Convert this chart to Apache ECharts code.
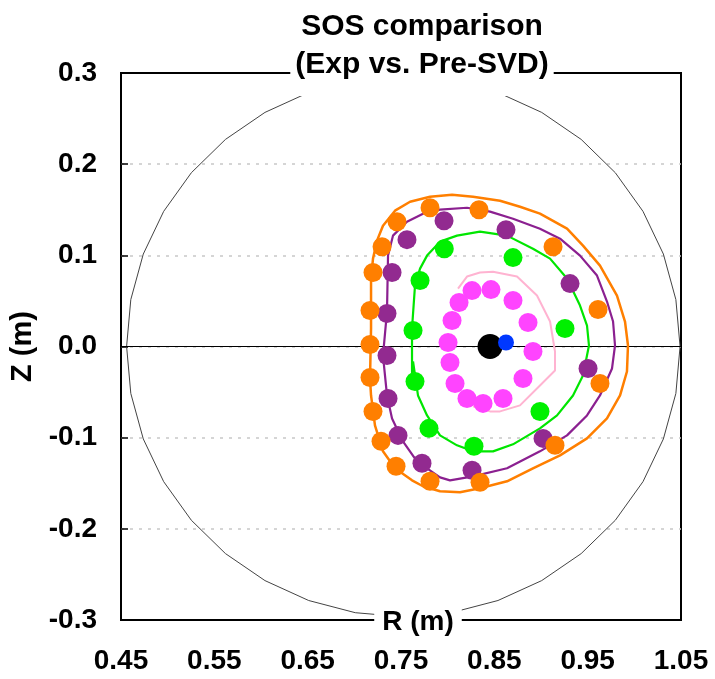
<!DOCTYPE html>
<html>
<head>
<meta charset="utf-8">
<title>SOS comparison</title>
<script src="https://cdn.jsdelivr.net/npm/echarts@6/dist/echarts.min.js"></script>
<style>
  html, body { margin: 0; padding: 0; background: #fff; }
  #chart { width: 715px; height: 679px; }
</style>
</head>
<body>
<div id="chart"></div>
<script>
// Axis tick labels
const rTickLabels = ['0.45', '0.55', '0.65', '0.75', '0.85', '0.95', '1.05'];
const zTickLabels = ['-0.3', '-0.2', '-0.1', '0.0', '0.1', '0.2', '0.3'];

// Vessel boundary: centre [R, Z], radius (m) and number of polygon sides
const vesselCenter = [0.7525, 0];
const vesselRadius = 0.2965;
const vesselSides = 36;

// Magnetic axis and reference point [R, Z]
const axisPoint = [[0.8454, 0.0]];
const refPoint = [[0.8625, 0.0044]];

// Experimental surface points [R, Z]
const orangePoints = [
  [0.7811, 0.1522], [0.8336, 0.1501], [0.7457, 0.1369], [0.7297, 0.1095],
  [0.7200, 0.0811], [0.7168, 0.0394], [0.7168, 0.0022], [0.7168, -0.0340],
  [0.7200, -0.0712], [0.7286, -0.1040], [0.7447, -0.1314], [0.7811, -0.1479],
  [0.8347, -0.1490], [0.9150, -0.1084], [0.9632, -0.0405], [0.9611, 0.0405],
  [0.9129, 0.1095]
];
const purplePoints = [
  [0.7961, 0.1380], [0.7564, 0.1172], [0.7404, 0.0811], [0.7350, 0.0361],
  [0.7350, -0.0099], [0.7361, -0.0570], [0.7468, -0.0975], [0.7725, -0.1280],
  [0.8261, -0.1358], [0.9022, -0.1008], [0.9504, -0.0241], [0.9311, 0.0690],
  [0.8625, 0.1281]
];
const greenPoints = [
  [0.7964, 0.1073], [0.8700, 0.0975], [0.7704, 0.0723], [0.7629, 0.0175],
  [0.7650, -0.0383], [0.7800, -0.0898], [0.8282, -0.1095], [0.8989, -0.0712],
  [0.9257, 0.0197]
];
const magentaPoints = [
  [0.8261, 0.0613], [0.8464, 0.0624], [0.8122, 0.0482], [0.8700, 0.0504],
  [0.8047, 0.0285], [0.8861, 0.0263], [0.8004, 0.0044], [0.8914, -0.0055],
  [0.8025, -0.0175], [0.8079, -0.0405], [0.8207, -0.0570], [0.8379, -0.0624],
  [0.8593, -0.0570], [0.8807, -0.0350]
];

// Pre-SVD reconstructed surfaces [R, Z]
const orangeCurve = [
  [0.7168, -0.0350], [0.7179, 0.0197], [0.7179, 0.0745], [0.7200, 0.0964],
  [0.7243, 0.1161], [0.7307, 0.1325], [0.7436, 0.1490], [0.7597, 0.1588],
  [0.7811, 0.1643], [0.8047, 0.1665], [0.8272, 0.1643], [0.8561, 0.1599],
  [0.8775, 0.1533], [0.8989, 0.1457], [0.9279, 0.1292], [0.9450, 0.1106],
  [0.9632, 0.0887], [0.9814, 0.0559], [0.9900, 0.0274], [0.9932, 0.0011],
  [0.9921, -0.0274], [0.9847, -0.0537], [0.9707, -0.0789], [0.9493, -0.1008],
  [0.9204, -0.1194], [0.8914, -0.1336], [0.8636, -0.1479], [0.8346, -0.1555],
  [0.8132, -0.1599], [0.7918, -0.1588], [0.7736, -0.1533], [0.7618, -0.1468],
  [0.7436, -0.1336], [0.7307, -0.1150], [0.7221, -0.0865], [0.7179, -0.0537],
  [0.7168, -0.0350]
];
const purpleCurve = [
  [0.7307, -0.0099], [0.7350, 0.0383], [0.7361, 0.0997], [0.7414, 0.1216],
  [0.7564, 0.1369], [0.7736, 0.1457], [0.7918, 0.1501], [0.8207, 0.1522],
  [0.8454, 0.1479], [0.8700, 0.1402], [0.8989, 0.1292], [0.9204, 0.1183],
  [0.9418, 0.0997], [0.9600, 0.0778], [0.9707, 0.0493], [0.9772, 0.0274],
  [0.9793, 0.0011], [0.9761, -0.0241], [0.9632, -0.0537], [0.9493, -0.0756],
  [0.9279, -0.0975], [0.8989, -0.1150], [0.8636, -0.1336], [0.8272, -0.1424],
  [0.8025, -0.1468], [0.7918, -0.1435], [0.7671, -0.1260], [0.7521, -0.1041],
  [0.7404, -0.0789], [0.7350, -0.0537], [0.7307, -0.0099]
];
const greenCurve = [
  [0.7618, -0.0350], [0.7618, 0.0197], [0.7650, 0.0668], [0.7704, 0.0854],
  [0.7779, 0.0997], [0.7918, 0.1150], [0.8100, 0.1216], [0.8346, 0.1260],
  [0.8636, 0.1216], [0.8914, 0.1073], [0.9097, 0.0964], [0.9279, 0.0745],
  [0.9418, 0.0449], [0.9493, 0.0230], [0.9514, 0.0011], [0.9450, -0.0318],
  [0.9343, -0.0537], [0.9172, -0.0756], [0.8989, -0.0898], [0.8700, -0.1073],
  [0.8486, -0.1150], [0.8272, -0.1150], [0.8100, -0.1084], [0.7918, -0.0975],
  [0.7779, -0.0756], [0.7682, -0.0537], [0.7629, -0.0164], [0.7618, -0.0350]
];
const pinkCurve = [
  [0.8111, 0.0635], [0.8207, 0.0767], [0.8346, 0.0811], [0.8486, 0.0821],
  [0.8743, 0.0767], [0.8957, 0.0559], [0.9097, 0.0274], [0.9150, -0.0055],
  [0.9150, -0.0263], [0.8989, -0.0427], [0.8775, -0.0646], [0.8561, -0.0712],
  [0.8454, -0.0712], [0.8272, -0.0657]
];

// Midplane Z = 0
const midplane = [[0.45, 0], [1.05, 0]];

const FONT = '"Liberation Sans", Arial, Helvetica, sans-serif';

function curveSeries(data, color, width) {
  return {
    type: 'line', data: data, symbol: 'none', smooth: false,
    lineStyle: { color: color, width: width }, z: 3, silent: true
  };
}
function pointSeries(data, color, size, z) {
  return {
    type: 'scatter', data: data, symbol: 'circle', symbolSize: size,
    itemStyle: { color: color, opacity: 1 }, z: z, silent: true
  };
}

const chart = echarts.init(document.getElementById('chart'), null, { renderer: 'canvas' });

chart.setOption({
  animation: false,
  backgroundColor: '#fff',
  title: [
    {
      text: 'SOS comparison\n(Exp vs. Pre-SVD)',
      left: 417, top: 2, textAlign: 'center',
      backgroundColor: '#fff',
      padding: [6, 5, 12, 5],
      textStyle: { fontFamily: FONT, fontSize: 30, fontWeight: 'bold', color: '#000', lineHeight: 38 }
    },
    {
      text: 'R (m)',
      left: 410, top: 604, textAlign: 'center',
      backgroundColor: '#fff',
      padding: [2, 8, 4, 8],
      textStyle: { fontFamily: FONT, fontSize: 28, fontWeight: 'bold', color: '#000', lineHeight: 32 }
    }
  ],
  grid: {
    left: 121, right: 34, top: 73, bottom: 59,
    show: true, borderColor: '#000', borderWidth: 2, backgroundColor: 'transparent'
  },
  xAxis: {
    type: 'value', min: 0.45, max: 1.05, interval: 0.1,
    axisLine: { show: false }, axisTick: { show: false }, splitLine: { show: false },
    axisLabel: {
      margin: 27, color: '#000', fontFamily: FONT, fontSize: 28, fontWeight: 'bold',
      formatter: function (v) {
        const i = Math.round((v - 0.45) / 0.1);
        return rTickLabels[i] !== undefined ? rTickLabels[i] : '';
      }
    }
  },
  yAxis: {
    type: 'value', min: -0.3, max: 0.3, interval: 0.1,
    name: 'Z (m)', nameLocation: 'middle', nameRotate: 90, nameGap: 69,
    nameTextStyle: { fontFamily: FONT, fontSize: 29, fontWeight: 'bold', color: '#000' },
    axisLine: { show: false },
    axisTick: { show: true, inside: true, length: 7, lineStyle: { color: '#000', width: 1.5 } },
    splitLine: {
      show: true, showMinLine: false, showMaxLine: false,
      lineStyle: { color: '#c8c8c8', type: [3, 6], width: 1.5 }
    },
    axisLabel: {
      margin: 24, color: '#000', fontFamily: FONT, fontSize: 28, fontWeight: 'bold',
      formatter: function (v) {
        const i = Math.round((v + 0.3) / 0.1);
        return zTickLabels[i] !== undefined ? zTickLabels[i] : '';
      }
    }
  },
  series: [
    {
      type: 'custom', coordinateSystem: 'cartesian2d', silent: true, z: 1,
      data: [[vesselCenter[0], vesselCenter[1], vesselRadius]],
      encode: { x: 0, y: 1 },
      renderItem: function (params, api) {
        const cR = api.value(0), cZ = api.value(1), rad = api.value(2);
        const pts = [];
        for (let k = 0; k < vesselSides; k++) {
          const a = 2 * Math.PI * k / vesselSides;
          pts.push(api.coord([cR + rad * Math.cos(a), cZ + rad * Math.sin(a)]));
        }
        return { type: 'polygon', shape: { points: pts }, style: { fill: 'none', stroke: '#444', lineWidth: 1 } };
      }
    },
    { type: 'line', data: midplane, symbol: 'none', lineStyle: { color: '#000', width: 1.2 }, z: 2, silent: true },
    curveSeries(pinkCurve, '#ffb3d1', 2),
    curveSeries(greenCurve, '#00e600', 2.2),
    curveSeries(purpleCurve, '#8b2090', 2.2),
    curveSeries(orangeCurve, '#ff7f00', 2.5),
    pointSeries(magentaPoints, '#ff44ff', 19, 4),
    pointSeries(greenPoints, '#00f000', 19, 4),
    pointSeries(purplePoints, '#922a90', 19, 5),
    pointSeries(orangePoints, '#ff7f00', 19, 6),
    pointSeries(axisPoint, '#000', 25, 7),
    pointSeries(refPoint, '#0038ff', 16, 8)
  ]
});
</script>
</body>
</html>
